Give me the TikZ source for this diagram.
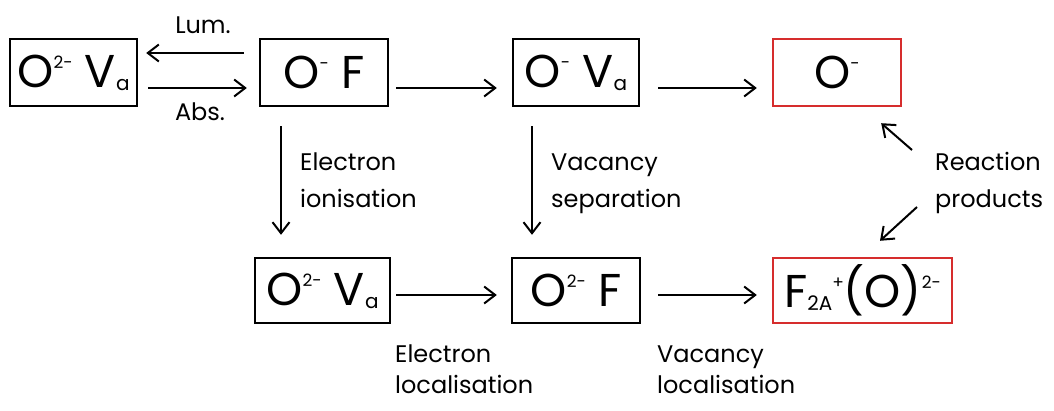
\documentclass[tikz,border=0pt]{standalone}
\usepackage{fontspec}
\setmainfont{Poppins}
\usetikzlibrary{arrows.meta,calc}
\definecolor{boxred}{RGB}{214,45,45}
% raised and lowered indices inside the 46pt species labels
\newcommand\hi[1]{\raisebox{19pt}{\fontsize{17}{17}\selectfont #1}}
\newcommand\lo[1]{\raisebox{-3pt}{\fontsize{20}{20}\selectfont #1}}

\begin{document}
\begin{tikzpicture}[x=1pt,y=-1pt,
  species/.style={draw, line width=2.4pt, inner sep=0pt, font=\fontsize{46}{46}\selectfont},
  product/.style={species, draw=boxred},
  arr/.style={line width=2pt, -{Straight Barb[length=11pt,width=17pt]}},
  lbl/.style={inner sep=0pt, align=left, font=\fontsize{24}{37}\selectfont},
  lowlbl/.style={lbl, font=\fontsize{24}{31}\selectfont},
]
\useasboundingbox (0,0) rectangle (1054,410);

% top row
\node[species, minimum width=127pt, minimum height=67pt] (ova1) at (73.5,72.5) {O\hi{2-} V\lo{a}};
\node[species, minimum width=128pt, minimum height=67pt] (of) at (324,72.5) {O\hi{-} F};
\node[species, minimum width=126pt, minimum height=67pt] (ov) at (576,72.5) {O\hi{-} V\lo{a}};
\node[product, minimum width=128pt, minimum height=67pt] (o) at (837,72.5) {O\hi{-}};

% bottom row
\node[species, minimum width=135pt, minimum height=65pt] (ova2) at (322.5,290.5) {O\hi{2-} V\lo{a}};
\node[species, minimum width=128pt, minimum height=65pt] (o2f) at (576,290.5) {O\hi{2-} F};
\node[product, minimum width=179pt, minimum height=65pt] (f2a) at (862.5,290.5) {F\lo{2A}\hi{+}(O)\hi{2-}};

% horizontal transitions
\draw[arr] ($(of.west)+(-15,-19.5)$) -- ($(ova1.east)+(8,-19.5)$);
\draw[arr] ($(ova1.east)+(10,15.5)$) -- ($(of.west)+(-12,15.5)$);
\draw[arr] ($(of.east)+(7,15.5)$) -- ($(ov.west)+(-15,15.5)$);
\draw[arr] ($(ov.east)+(18,15.5)$) -- ($(o.west)+(-15,15.5)$);
\draw[arr] ($(ova2.east)+(5,4.5)$) -- ($(o2f.west)+(-14,4.5)$);
\draw[arr] ($(o2f.east)+(17,4.5)$) -- ($(f2a.west)+(-15,4.5)$);

% vertical transitions
\draw[arr] ($(of.south)+(-43,19)$) -- ($(of.south |- ova2.north)+(-43,-22)$);
\draw[arr] ($(ov.south)+(-44,19)$) -- ($(ov.south |- o2f.north)+(-44,-22)$);

% reaction product arrows
\coordinate (rp1) at (912,150);
\coordinate (rp2) at (917,207);
\draw[arr] (rp1) -- ($(o.south east)+(-21,16)$);
\draw[arr] (rp2) -- ($(f2a.north)+(17.5,-16)$);

% labels (base anchor sits on the last line)
\node[lbl, anchor=base] (lum) at (203,33) {Lum.};
\node[lbl, anchor=base] (abs) at (200,120) {Abs.};
\node[lbl, anchor=base west] (eion) at (300,207) {Electron\\ionisation};
\node[lbl, anchor=base west] (vsep) at (551,207) {Vacancy\\separation};
\node[lbl, anchor=base west] (rprod) at (935,207) {Reaction\\products};
\node[lowlbl, anchor=base west] (eloc) at (395,393) {Electron\\localisation};
\node[lowlbl, anchor=base west] (vloc) at (657,393) {Vacancy\\localisation};
\end{tikzpicture}
\end{document}
